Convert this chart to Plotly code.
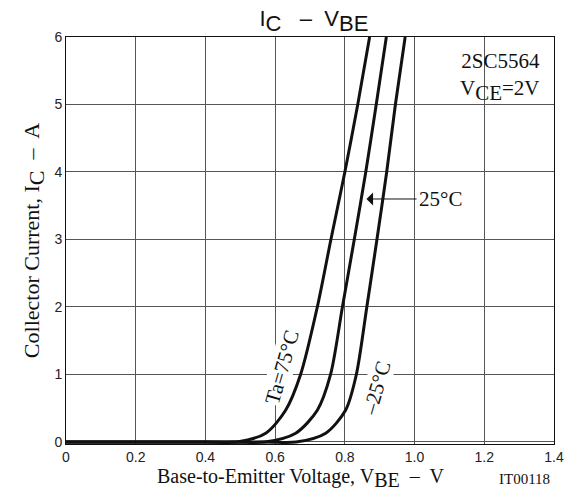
import plotly.graph_objects as go

# I_C - V_BE characteristics of 2SC5564 at V_CE = 2 V
vbe_75 = [0.0, 0.40, 0.49, 0.573, 0.630, 0.673, 0.721, 0.760, 0.800, 0.837, 0.871]
ic_75 = [0.0, 0.0, 0.0, 0.13, 0.47, 1.0, 2.0, 3.0, 4.0, 5.0, 6.0]

vbe_25 = [0.0, 0.48, 0.57, 0.659, 0.721, 0.759, 0.793, 0.827, 0.860, 0.890, 0.919]
ic_25 = [0.0, 0.0, 0.0, 0.13, 0.47, 1.0, 2.0, 3.0, 4.0, 5.0, 6.0]

vbe_m25 = [0.0, 0.57, 0.66, 0.745, 0.802, 0.833, 0.863, 0.892, 0.920, 0.945, 0.973]
ic_m25 = [0.0, 0.0, 0.0, 0.13, 0.47, 1.0, 2.0, 3.0, 4.0, 5.0, 6.0]

x_ticks = [0, 0.2, 0.4, 0.6, 0.8, 1.0, 1.2, 1.4]
x_tick_text = ["0", "0.2", "0.4", "0.6", "0.8", "1.0", "1.2", "1.4"]
y_ticks = [0, 1, 2, 3, 4, 5, 6]

SERIF = "Liberation Serif"
SANS = "Liberation Sans"
INK = "#111111"


def sub(s, size):
    # subscript kept at full text size, only shifted down
    return f"<sub><span style='font-size:{size}px'>{s}</span></sub>"


fig = go.Figure()
for xs, ys in [(vbe_75, ic_75), (vbe_25, ic_25), (vbe_m25, ic_m25)]:
    fig.add_trace(go.Scatter(
        x=xs, y=ys, mode="lines",
        line=dict(color=INK, width=3, shape="spline", smoothing=0.8),
        showlegend=False, hoverinfo="skip",
    ))

fig.update_layout(
    width=576, height=490,
    margin=dict(l=66, r=20, t=37, b=46),
    paper_bgcolor="white", plot_bgcolor="white",
    title=dict(
        text="I" + sub("C", 22) + "   –  V" + sub("BE", 22),
        x=0.545, xanchor="center", y=0.962, yanchor="middle",
        font=dict(family=SANS, size=22, color=INK),
    ),
    xaxis=dict(
        range=[0, 1.4], tickvals=x_ticks, ticktext=x_tick_text,
        showgrid=True, gridcolor="#555555", gridwidth=1,
        showline=True, linecolor=INK, linewidth=1, mirror=True,
        ticks="", zeroline=False,
        tickfont=dict(family=SANS, size=14, color="#222222"),
    ),
    yaxis=dict(
        range=[-0.03, 6], tickvals=y_ticks,
        showgrid=True, gridcolor="#555555", gridwidth=1,
        showline=True, linecolor=INK, linewidth=1, mirror=True,
        ticks="", zeroline=False,
        tickfont=dict(family=SANS, size=14, color="#222222"),
        title=dict(text="Collector Current, I" + sub("C", 22) + "  –  A",
                   font=dict(family=SERIF, size=22, color=INK), standoff=8),
    ),
)

# X-axis title, set slightly left of the plot centre
fig.add_annotation(
    x=0.48, y=-0.084, xref="paper", yref="paper", xanchor="center", yanchor="middle",
    text="Base-to-Emitter Voltage, V" + sub("BE", 20) + "  –  V", showarrow=False,
    font=dict(family=SERIF, size=20, color=INK),
)

# Device and condition label
fig.add_annotation(
    x=0.976, y=0.975, xref="paper", yref="paper", xanchor="right", yanchor="top",
    text="2SC5564<br>V" + sub("CE", 21) + "=2V", showarrow=False, align="right",
    font=dict(family=SERIF, size=21, color=INK),
)

# Temperature labels along the curves
fig.add_annotation(
    x=0.62, y=1.11, xref="x", yref="y", text="Ta=75°C", showarrow=False,
    textangle=-74, bgcolor="white", borderpad=0,
    font=dict(family=SERIF, size=21, color=INK),
)
fig.add_annotation(
    x=0.891, y=0.8, xref="x", yref="y", text="–25°C", showarrow=False,
    textangle=-74, bgcolor="white", borderpad=0,
    font=dict(family=SERIF, size=21, color=INK),
)
fig.add_annotation(
    x=0.862, y=3.6, xref="x", yref="y", ax=1.01, ay=3.6, axref="x", ayref="y",
    text="", showarrow=True, arrowhead=1, arrowsize=2.2, arrowwidth=1,
    arrowcolor=INK,
)
fig.add_annotation(
    x=1.008, y=3.6, xref="x", yref="y", xanchor="left", text="25°C",
    showarrow=False, bgcolor="white", borderpad=1,
    font=dict(family=SERIF, size=21, color=INK),
)

# Figure code
fig.add_annotation(
    x=0.996, y=-0.087, xref="paper", yref="paper", xanchor="right", yanchor="middle",
    text="IT00118", showarrow=False,
    font=dict(family=SERIF, size=15, color=INK),
)

fig.write_html("out.html")
